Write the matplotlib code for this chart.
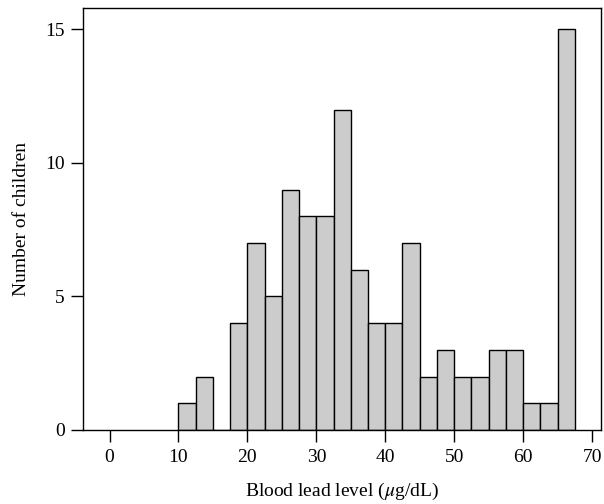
import matplotlib
matplotlib.use('Agg')
import matplotlib.pyplot as plt

# histogram of blood lead levels, bins 2.5 wide
bin_edges = [10, 12.5, 15, 17.5, 20, 22.5, 25, 27.5, 30, 32.5, 35, 37.5, 40,
             42.5, 45, 47.5, 50, 52.5, 55, 57.5, 60, 62.5, 65, 67.5]
counts = [1, 2, 0, 4, 7, 5, 9, 8, 8, 12, 6, 4, 4, 7, 2, 3, 2, 2, 3, 3, 1, 1, 15]
x_ticks = [0, 10, 20, 30, 40, 50, 60, 70]
y_ticks = [0, 5, 10, 15]

plt.rcParams['font.family'] = ['Liberation Serif', 'DejaVu Serif']
plt.rcParams['mathtext.fontset'] = 'stix'

fig = plt.figure(figsize=(6.04, 5.04), dpi=100)
ax = fig.add_axes([0.138, 0.147, 0.857, 0.837])

widths = [b - a for a, b in zip(bin_edges[:-1], bin_edges[1:])]
ax.bar(bin_edges[:-1], counts, width=widths, align='edge',
       color='#cccccc', edgecolor='black', linewidth=1.0)

ax.set_xlim(-3.8, 71.3)
ax.set_ylim(0, 15.8)
ax.set_xticks(x_ticks)
ax.set_yticks(y_ticks)
ax.tick_params(direction='out', length=8.5, width=1, labelsize=14, pad=5)
for s in ax.spines.values():
    s.set_linewidth(1.0)

ax.set_xlabel(r'Blood lead level ($\mu$g/dL)', fontsize=14, labelpad=11)
ax.set_ylabel('Number of children', fontsize=14, labelpad=11)

plt.savefig('out.png', dpi=100)
plt.close()
